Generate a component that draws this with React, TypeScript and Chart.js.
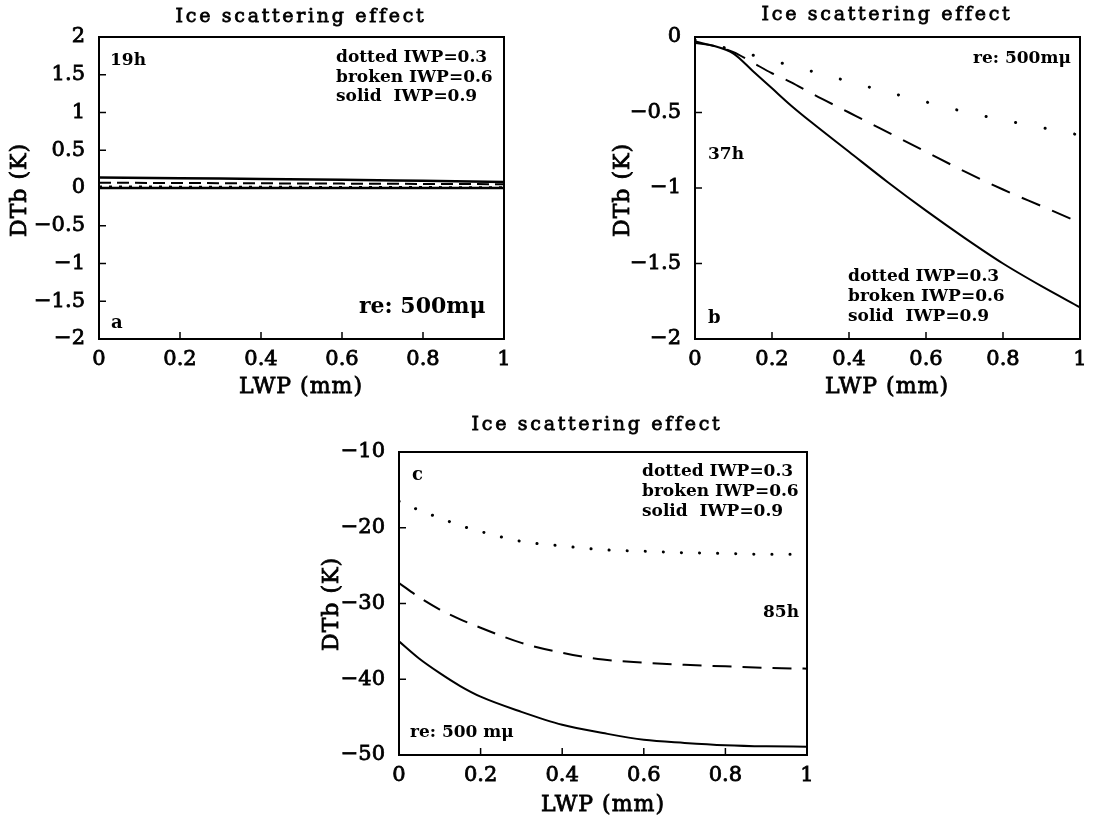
import React, { useEffect, useRef } from "react";
import { Chart, registerables } from "chart.js";
Chart.register(...registerables);

// ---------- data ----------
const xTicks = [0, 0.2, 0.4, 0.6, 0.8, 1];

// panel a : 19h
const lwpA = [0, 0.2, 0.4, 0.6, 0.8, 1.0];
const dottedA = [0.02, 0.018, 0.016, 0.014, 0.012, 0.01];
const brokenA = [0.07, 0.066, 0.062, 0.058, 0.054, 0.05];
const solidA = [0.14, 0.13, 0.12, 0.11, 0.095, 0.08];
const zeroA = [0, 0, 0, 0, 0, 0];
const yTicksA = [-2, -1.5, -1, -0.5, 0, 0.5, 1, 1.5, 2];

// panel b : 37h
const lwpB = [0, 0.05, 0.1, 0.15, 0.2, 0.25, 0.3, 0.4, 0.5, 0.6, 0.7, 0.8, 0.9, 1.0];
const dottedB = [-0.02, -0.05, -0.09, -0.12, -0.155, -0.19, -0.225, -0.295, -0.365, -0.43, -0.495, -0.55, -0.6, -0.65];
const brokenB = [-0.03, -0.06, -0.1, -0.17, -0.24, -0.3, -0.37, -0.5, -0.63, -0.76, -0.89, -1.01, -1.12, -1.23];
const solidB = [-0.04, -0.06, -0.11, -0.225, -0.34, -0.455, -0.56, -0.76, -0.96, -1.15, -1.33, -1.5, -1.65, -1.79];
const yTicksB = [-2, -1.5, -1, -0.5, 0];

// panel c : 85h
const lwpC = [0, 0.05, 0.1, 0.15, 0.2, 0.3, 0.4, 0.5, 0.6, 0.7, 0.8, 0.9, 1.0];
const dottedC = [-16.5, -17.7, -18.7, -19.7, -20.5, -21.8, -22.4, -22.9, -23.1, -23.3, -23.4, -23.5, -23.5];
const brokenC = [-27.3, -29.2, -30.8, -32.1, -33.2, -35.2, -36.5, -37.4, -37.8, -38.1, -38.3, -38.5, -38.6];
const solidC = [-35.0, -37.3, -39.2, -40.9, -42.3, -44.3, -46.0, -47.1, -48.0, -48.4, -48.7, -48.85, -48.9];
const yTicksC = [-50, -40, -30, -20, -10];

const legendLines = ["dotted IWP=0.3", "broken IWP=0.6", "solid  IWP=0.9"];
const titleText = "Ice scattering effect";
const xTitle = "LWP (mm)";
const yTitle = "DTb (K)";

// ---------- styling ----------
const FAMILY = "'DejaVu Serif', serif";

type TextItem = { text: string; x: number; y: number; size: number; align?: CanvasTextAlign; rot?: number; ls?: number; weight?: string; stroke?: number };
type Series = { values: number[]; dash: number[]; width: number; cap?: CanvasLineCap };
type Panel = {
  left: number; top: number; w: number; h: number;
  area: { L: number; T: number; R: number; B: number };
  x: number[]; series: Series[];
  yMin: number; yMax: number; yTicks: number[];
  texts: TextItem[];
};

const fmt = (v: number) => {
  const s = String(Number(v.toFixed(2)));
  return s.replace("-", "\u2212");
};

function legendTexts(x: number, y0: number, dy: number): TextItem[] {
  return legendLines.map((t, i) => ({ text: t, x, y: y0 + i * dy, size: 17 }));
}

function commonTexts(cx: number, titleY: number, yTitleX: number, yTitleY: number, xTitleX: number, xTitleY: number): TextItem[] {
  return [
    { text: titleText, x: cx, y: titleY, size: 19, align: "center", ls: 2.7, weight: "normal", stroke: 0.8 },
    { text: yTitle, x: yTitleX, y: yTitleY, size: 22, align: "center", rot: -Math.PI / 2, weight: "normal", stroke: 0.8, ls: 1 },
    { text: xTitle, x: xTitleX, y: xTitleY, size: 22, align: "center", weight: "normal", stroke: 0.8, ls: 1 },
  ];
}

const panels: Panel[] = [
  {
    left: 0, top: 0, w: 540, h: 400,
    area: { L: 99, T: 37, R: 504, B: 339 },
    x: lwpA,
    series: [
      { values: zeroA, dash: [], width: 2.5 },
      { values: dottedA, dash: [3, 7], width: 2 },
      { values: brokenA, dash: [12, 6], width: 2 },
      { values: solidA, dash: [], width: 2.5 },
    ],
    yMin: -2, yMax: 2, yTicks: yTicksA,
    texts: [
      ...commonTexts(301, 17, 20, 190, 301, 387),
      { text: "19h", x: 110, y: 61, size: 17 },
      ...legendTexts(336, 58, 19.5),
      { text: "re: 500m\u03bc", x: 359, y: 307, size: 22 },
      { text: "a", x: 111, y: 323, size: 18 },
    ],
  },
  {
    left: 560, top: 0, w: 554, h: 400,
    area: { L: 135, T: 37, R: 520, B: 339 },
    x: lwpB,
    series: [
      { values: dottedB, dash: [0.1, 30], width: 3, cap: "round" },
      { values: brokenB, dash: [20, 13], width: 2 },
      { values: solidB, dash: [], width: 2 },
    ],
    yMin: -2, yMax: 0, yTicks: yTicksB,
    texts: [
      ...commonTexts(327, 15, 63, 190, 327, 387),
      { text: "re: 500m\u03bc", x: 413, y: 59, size: 17 },
      { text: "37h", x: 148, y: 155, size: 17 },
      ...legendTexts(288, 277, 20),
      { text: "b", x: 148, y: 318, size: 18 },
    ],
  },
  {
    left: 300, top: 400, w: 560, h: 421,
    area: { L: 99, T: 52, R: 507, B: 355 },
    x: lwpC,
    series: [
      { values: dottedC, dash: [0.1, 18], width: 3, cap: "round" },
      { values: brokenC, dash: [19, 11], width: 2 },
      { values: solidC, dash: [], width: 2 },
    ],
    yMin: -50, yMax: -10, yTicks: yTicksC,
    texts: [
      ...commonTexts(297, 25, 32, 204, 303, 405),
      { text: "c", x: 112, y: 75, size: 18 },
      ...legendTexts(342, 72, 20),
      { text: "85h", x: 463, y: 213, size: 17 },
      { text: "re: 500 m\u03bc", x: 110, y: 333, size: 17 },
    ],
  },
];

function framePlugin(p: Panel) {
  return {
    id: "frame",
    afterDraw(chart: any) {
      const { ctx, chartArea } = chart;
      const { left, top, right, bottom } = chartArea;
      ctx.save();
      ctx.strokeStyle = "#000";
      ctx.lineWidth = 2;
      ctx.strokeRect(left, top, right - left, bottom - top);
      ctx.lineWidth = 1.5;
      const xs = chart.scales.x;
      const ys = chart.scales.y;
      xs.ticks.forEach((t: any) => {
        const px = xs.getPixelForValue(t.value);
        if (px - left < 2 || right - px < 2) return;
        ctx.beginPath();
        ctx.moveTo(px, bottom);
        ctx.lineTo(px, bottom - 7);
        ctx.stroke();
      });
      ys.ticks.forEach((t: any) => {
        const py = ys.getPixelForValue(t.value);
        if (py - top < 2 || bottom - py < 2) return;
        ctx.beginPath();
        ctx.moveTo(left, py);
        ctx.lineTo(left + 7, py);
        ctx.stroke();
      });
      ctx.fillStyle = "#000";
      ctx.textBaseline = "middle";
      p.texts.forEach((t) => {
        ctx.save();
        ctx.font = `${t.weight || "bold"} ${t.size}px ${FAMILY}`;
        (ctx as any).letterSpacing = `${t.ls || 0}px`;
        ctx.textAlign = t.align || "left";
        ctx.translate(t.x, t.y);
        if (t.rot) ctx.rotate(t.rot);
        ctx.fillText(t.text, 0, 0);
        if (t.stroke) {
          ctx.lineWidth = t.stroke;
          ctx.strokeText(t.text, 0, 0);
        }
        ctx.restore();
      });
      ctx.restore();
    },
  };
}

function PanelChart({ p }: { p: Panel }) {
  const ref = useRef<HTMLCanvasElement | null>(null);
  useEffect(() => {
    if (!ref.current) return;
    const tickFont = { family: FAMILY, size: 21, weight: "normal" as const };
    const tickCommon = {
      font: tickFont,
      color: "#000",
      textStrokeColor: "#000",
      textStrokeWidth: 0.8,
      autoSkip: false,
      callback: (v: any) => fmt(Number(v)),
    };
    const chart = new Chart(ref.current, {
      type: "line",
      data: {
        datasets: p.series.map((s) => ({
          data: p.x.map((x, i) => ({ x, y: s.values[i] })),
          borderColor: "#000",
          borderWidth: s.width,
          borderDash: s.dash,
          borderCapStyle: s.cap || "butt",
          pointRadius: 0,
          cubicInterpolationMode: "monotone",
          fill: false,
        })),
      },
      options: {
        responsive: false,
        animation: false,
        events: [],
        layout: { padding: { left: 0, top: p.area.T, right: p.w - p.area.R, bottom: 0 } },
        plugins: { legend: { display: false }, tooltip: { enabled: false }, title: { display: false } },
        scales: {
          x: {
            type: "linear",
            min: 0,
            max: 1,
            border: { display: false },
            grid: { display: false },
            afterBuildTicks: (s: any) => { s.ticks = xTicks.map((v) => ({ value: v })); },
            ticks: { ...tickCommon, padding: 0, maxRotation: 0 },
            afterFit: (s: any) => { s.height = p.h - p.area.B; },
          },
          y: {
            type: "linear",
            min: p.yMin,
            max: p.yMax,
            border: { display: false },
            grid: { display: false },
            afterBuildTicks: (s: any) => { s.ticks = p.yTicks.map((v) => ({ value: v })); },
            ticks: { ...tickCommon, padding: 6 },
            afterFit: (s: any) => { s.width = p.area.L; },
          },
        },
      } as any,
      plugins: [framePlugin(p)],
    });
    return () => chart.destroy();
  }, [p]);
  return (
    <canvas
      ref={ref}
      width={p.w}
      height={p.h}
      style={{ position: "absolute", left: p.left, top: p.top, width: p.w, height: p.h }}
    />
  );
}

export default function App() {
  return (
    <div style={{ position: "absolute", left: 0, top: 0, width: 1114, height: 821, background: "#fff", overflow: "hidden" }}>
      {panels.map((p, i) => (
        <PanelChart key={i} p={p} />
      ))}
    </div>
  );
}
